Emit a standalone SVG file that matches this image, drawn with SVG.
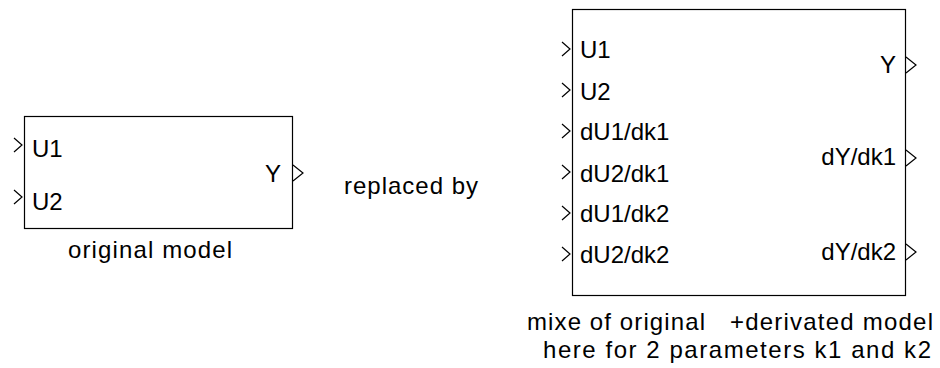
<svg xmlns="http://www.w3.org/2000/svg" width="940" height="368" viewBox="0 0 940 368">
<style>
.box{fill:#fff;stroke:#000;stroke-width:1.2}
.port{fill:none;stroke:#000;stroke-width:1.2}
text{font-family:"Liberation Sans",Arial,sans-serif;font-size:24px;fill:#000}
.r{text-anchor:end}
.m{text-anchor:middle}
</style>
<rect width="940" height="368" fill="#fff"/>
<g id="original">
<rect class="box" x="24.5" y="116.5" width="268" height="112"/>
<path class="port" d="M14,138 L22,145 L14,152 M14,190 L22,197 L14,204 M293,165 L303,173 L293,181"/>
<text x="32" y="157">U1</text>
<text x="32" y="210">U2</text>
<text class="r" x="281" y="182">Y</text>
<text x="68" y="258" textLength="164" lengthAdjust="spacing">original model</text>
</g>
<g id="label">
<text x="344" y="194" textLength="134" lengthAdjust="spacing">replaced by</text>
</g>
<g id="derivated">
<rect class="box" x="572.5" y="9.5" width="333" height="286"/>
<path class="port" d="M562,42 L570,49 L562,56 M562,83 L570,90 L562,97 M562,124 L570,131 L562,138 M562,165 L570,172 L562,179 M562,206 L570,213 L562,220 M562,247 L570,254 L562,261"/>
<path class="port" d="M906,57 L916,65 L906,73 M906,150 L916,158 L906,166 M906,244 L916,252 L906,260"/>
<text x="580" y="58">U1</text>
<text x="580" y="100">U2</text>
<text x="580" y="140">dU1/dk1</text>
<text x="580" y="182">dU2/dk1</text>
<text x="580" y="222">dU1/dk2</text>
<text x="580" y="263">dU2/dk2</text>
<text class="r" x="896" y="73">Y</text>
<text class="r" x="896" y="165">dY/dk1</text>
<text class="r" x="896" y="260">dY/dk2</text>
<text x="527" y="330" textLength="178" lengthAdjust="spacing">mixe of original</text>
<text x="730" y="330" textLength="203" lengthAdjust="spacing">+derivated model</text>
<text x="543" y="358" textLength="388" lengthAdjust="spacing">here for 2 parameters k1 and k2</text>
</g>
<g id="connectors"></g>
</svg>
